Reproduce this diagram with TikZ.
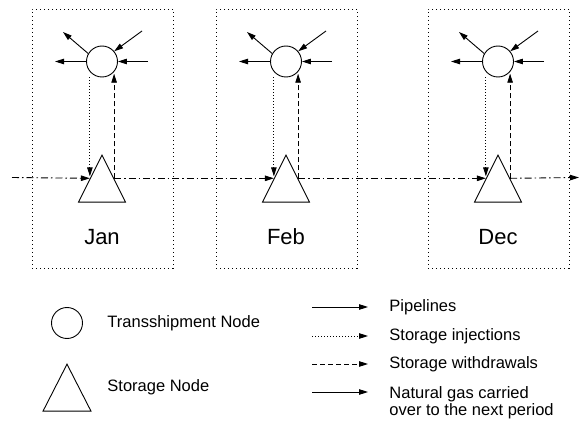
\documentclass[tikz,border=0pt]{standalone}
\usepackage{fontspec}
\setmainfont{Liberation Sans}
\usetikzlibrary{positioning,shapes.geometric,arrows.meta}

\begin{document}
\begin{tikzpicture}[x=1pt, y=1pt, line width=0.9pt,
  tnode/.style={circle, draw, minimum size=31pt, inner sep=0pt},
  snode/.style={isosceles triangle, isosceles triangle stretches, shape border rotate=90,
    draw, minimum width=47pt, minimum height=47pt, inner sep=0pt, anchor=apex},
  period/.style={draw, dash pattern=on 1pt off 3pt, minimum width=141pt, minimum height=259pt, inner sep=0pt},
  month/.style={font=\fontsize{22}{26}\selectfont},
  lbl/.style={font=\fontsize{16.5}{17}\selectfont, anchor=west, inner sep=0pt, align=left},
  pipe/.style={-{Triangle[length=9pt,width=5.5pt]}},
  inject/.style={pipe, dash pattern=on 1pt off 2pt},
  withdraw/.style={pipe, dash pattern=on 5pt off 3pt},
  carry/.style={pipe, dash pattern=on 7pt off 3pt on 1.5pt off 3pt}]
  \useasboundingbox (0,0) rectangle (579,421);

  % Periods
  \foreach \m/\x in {Jan/102, Feb/286, Dec/498} {
    \node[period] (box\m) at (\x+0.5,282.5) {};
    \node[tnode] (tn\m) at (\x,359.5) {};
    \node[snode] (sn\m) at (\x,267) {};
    \node[month] (lab\m) at (\x,184) {\m};
    % pipeline ends
    \coordinate (pa\m) at (\x-39,389);
    \coordinate (pb\m) at (\x-47,359.5);
    \coordinate (pc\m) at (\x+40,390);
    \coordinate (pd\m) at (\x+46,359.5);
    \draw[pipe] (tn\m.150) -- (pa\m);
    \draw[pipe] (tn\m.180) -- (pb\m);
    \draw[pipe] (pc\m) -- (tn\m.40);
    \draw[pipe] (pd\m) -- (tn\m.0);
    % storage
    \draw[inject] (sn\m.left side |- tn\m.south) -- ([yshift=2pt]sn\m.left side);
    \draw[withdraw] (sn\m.right side) -- (sn\m.right side |- tn\m.-50);
  }

  % Carried over
  \coordinate (cin) at (12,243.5);
  \coordinate (cout) at (579,243.5);
  \draw[carry] (cin) -- (snJan.left side);
  \draw[carry] (snJan.right side) -- (snFeb.left side);
  \draw[carry] (snFeb.right side) -- (snDec.left side);
  \draw[carry] (snDec.right side) -- (cout);

  % Legend
  \node[tnode] (ltn) at (67,98) {};
  \node[snode, minimum width=48pt] (lsn) at (67,58) {};
  \node[lbl] (ltnt) at (107,98) {Transshipment Node};
  \node[lbl] (lsnt) at (107,34) {Storage Node};

  \foreach \i/\y in {1/114, 2/85, 3/57, 4/29} {
    \coordinate (la\i) at (312,\y);
    \coordinate (lb\i) at (368,\y);
  }
  \draw[pipe] (la1) -- (lb1);
  \draw[inject] (la2) -- (lb2);
  \draw[withdraw] (la3) -- (lb3);
  \draw[pipe] (la4) -- (lb4);
  \node[lbl] (lt1) at (389,114) {Pipelines};
  \node[lbl] (lt2) at (389,85) {Storage injections};
  \node[lbl] (lt3) at (389,57) {Storage withdrawals};
  \node[lbl, anchor=north west] (lt4) at (389,35) {Natural gas carried\\over to the next period};
\end{tikzpicture}
\end{document}
